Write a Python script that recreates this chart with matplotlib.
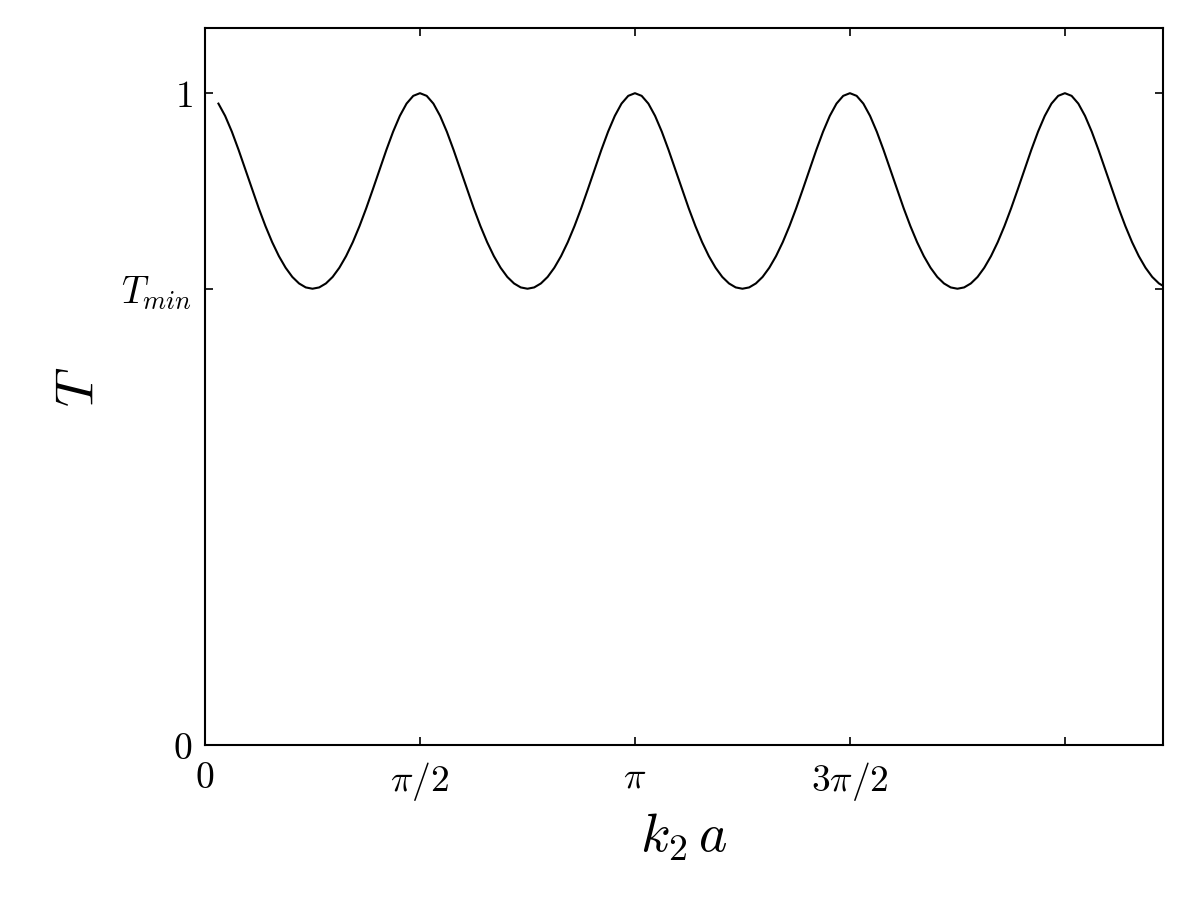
import numpy as np
import matplotlib
matplotlib.use("Agg")
import matplotlib.pyplot as plt

plt.rcParams['mathtext.fontset'] = 'cm'
plt.rcParams['font.family'] = ['DejaVu Serif']

# Quarter period of the curve: peak (T=1) down to trough (T_min=0.7),
# sampled every pi/64 in k2*a
quarter_T = [1.0000, 0.9959, 0.9840, 0.9651, 0.9409, 0.9130, 0.8832, 0.8529,
             0.8235, 0.7961, 0.7714, 0.7500, 0.7322, 0.7181, 0.7081, 0.7020, 0.7000]
x_step = np.pi / 64
x_start_index = 2          # curve starts at about k2*a = 0.1
x_end_index = 144          # curve runs to 9*pi/4 (clipped by the axis)

x_ticks = [0, np.pi / 2, np.pi, 3 * np.pi / 2, 2 * np.pi]
x_ticklabels = [r'$0$', r'$\pi/2$', r'$\pi$', r'$3\pi/2$', '']
T_min = 0.7
y_ticks = [0, T_min, 1]
y_ticklabels = [r'$0$', r'$T_{min}$', r'$1$']

idx = np.arange(x_start_index, x_end_index + 1)
m = idx % 32
T = np.array([quarter_T[k] if k <= 16 else quarter_T[32 - k] for k in m])
x = idx * x_step

fig = plt.figure(figsize=(8, 6), dpi=150)
ax = fig.add_axes([205 / 1200, 155 / 900, (1163 - 205) / 1200, (745 - 28) / 900])
ax.plot(x, T, color='black', lw=1.0)
ax.set_xlim(0, 7)
ax.set_ylim(0, 1.1)
ax.set_xticks(x_ticks)
ax.set_xticklabels(x_ticklabels)
ax.set_yticks(y_ticks)
ax.set_yticklabels(y_ticklabels)
ax.tick_params(direction='in', top=True, right=True, length=4, width=0.8,
               labelsize=18)
ax.tick_params(axis='x', pad=7)
ax.tick_params(axis='y', pad=6)
for s in ax.spines.values():
    s.set_linewidth(1.0)
ax.set_xlabel(r'$k_2\,a$', fontsize=26, labelpad=4)
ax.set_ylabel(r'$T$', fontsize=26, labelpad=8)

fig.savefig('out.png', dpi=150)
